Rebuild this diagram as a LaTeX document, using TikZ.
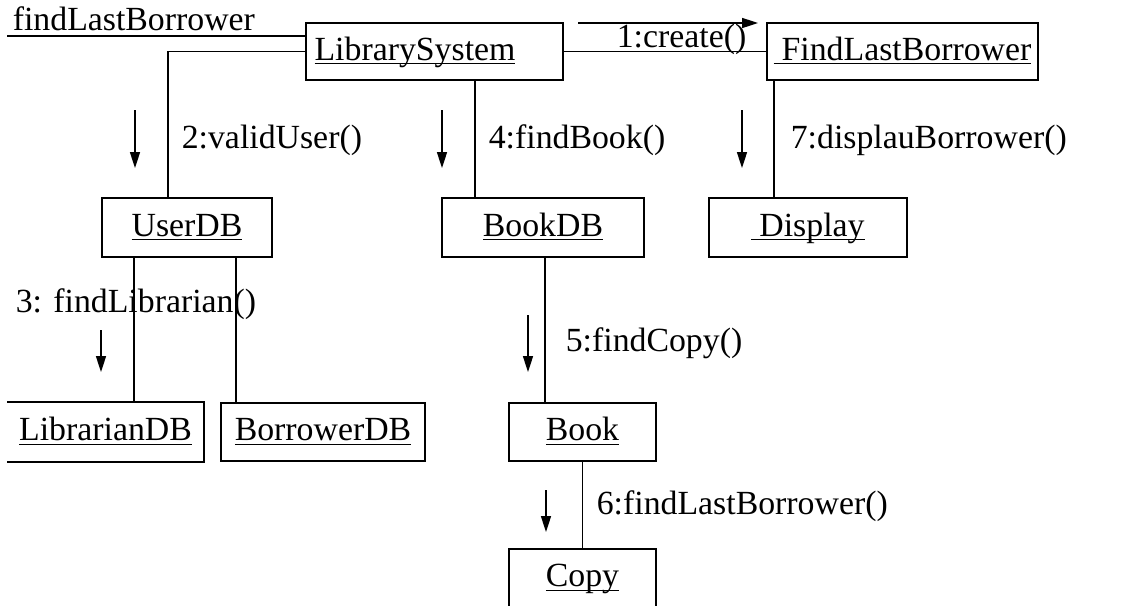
\documentclass[tikz,border=0pt]{standalone}
\usepackage{fontspec}
\setmainfont{Liberation Serif}
\usetikzlibrary{arrows.meta,calc}
% underlined object name, line just under the baseline
\newcommand\uname[1]{\setbox0\hbox{#1}\rlap{\rule[-2.2pt]{\wd0}{0.7pt}}\box0}
\begin{document}
\begin{tikzpicture}[x=0.5pt,y=-0.5pt,line width=0.8pt,
  every node/.style={font=\fontsize{16.9}{20}\selectfont,inner sep=0pt},
  obj/.style={draw,rectangle,inner sep=0pt,text height=11.5pt,text depth=3pt},
  objopen/.style={rectangle,inner sep=0pt,text height=11.5pt,text depth=3pt},
  msg/.style={-{Triangle[length=8pt,width=5pt]}},
  lbl/.style={anchor=base west}]
\useasboundingbox[fill=white] (0,0) rectangle (1121,606);

% objects
\node[obj,minimum width=128.5pt,minimum height=28.5pt] (ls) at (434.5,51.5) {\uname{LibrarySystem}\hspace*{19.5pt}};
\node[obj,minimum width=135.5pt,minimum height=28.5pt] (flb) at (902.5,51.5) {\uname{\hspace*{4pt}FindLastBorrower}};
\node[obj,minimum width=85pt,minimum height=29.5pt] (udb) at (187,227.5) {\uname{UserDB}};
\node[obj,minimum width=101pt,minimum height=29.5pt] (bdb) at (543,227.5) {\uname{BookDB}};
\node[obj,minimum width=99pt,minimum height=29.5pt] (disp) at (808,227.5) {\uname{\hspace*{4pt}Display}};
\node[objopen,minimum width=97.5pt,minimum height=29pt] (ldb) at (105.5,432) {\uname{LibrarianDB}};
\draw (ldb.north west) -- (ldb.north east) -- (ldb.south east) -- (ldb.south west);
\node[obj,minimum width=102pt,minimum height=29pt] (brdb) at (323,432) {\uname{BorrowerDB}};
\node[obj,minimum width=73.5pt,minimum height=29pt] (book) at (582.5,432) {\uname{Book}};
\node[obj,minimum width=73.5pt,minimum height=29pt] (copy) at (582.5,578) {\uname{Copy}};

% attachment points of the links
\coordinate (pU) at ($(udb.north west)+(67,0)$);
\coordinate (pB) at ($(bdb.north west)+(34,0)$);
\coordinate (pD) at ($(flb.south west)+(8,0)$);
\coordinate (pL) at ($(udb.south west)+(33,0)$);
\coordinate (pR) at ($(udb.south west)+(135,0)$);
\coordinate (pK) at ($(bdb.south west)+(104,0)$);

% links
\node[lbl] (m0) at (12,30) {findLastBorrower};
\coordinate (in0) at (7,36);
\draw (in0) -- (in0 -| ls.west);
\draw (ls.west) -| (pU);
\draw (pB) -- (pB |- ls.south);
\draw (ls.east) -- (flb.west);
\draw (pD) -- (pD |- disp.north);
\draw (pL) -- (pL |- ldb.north);
\draw (pR) -- (pR |- brdb.north);
\draw (pK) -- (pK |- book.north);
\draw (book.south) -- (copy.north);

% messages
\node[lbl] (m1) at (616,47) {1:create()};
\coordinate (a1s) at (578,23); \coordinate (a1e) at (758,23);
\draw[msg] (a1s) -- (a1e);

\node[lbl] (m2) at (181,148) {2:validUser()};
\coordinate (a2s) at (135,110); \coordinate (a2e) at (135,168);
\draw[msg] (a2s) -- (a2e);

\node[lbl] (m4) at (488,148) {4:findBook()};
\coordinate (a4s) at (442,110); \coordinate (a4e) at (442,168);
\draw[msg] (a4s) -- (a4e);

\node[lbl] (m7) at (790,148) {7:displauBorrower()};
\coordinate (a7s) at (742,110); \coordinate (a7e) at (742,168);
\draw[msg] (a7s) -- (a7e);

\node[lbl] (m3) at (15,312) {3: findLibrarian()};
\coordinate (a3s) at (101,330); \coordinate (a3e) at (101,372);
\draw[msg] (a3s) -- (a3e);

\node[lbl] (m5) at (565,351) {5:findCopy()};
\coordinate (a5s) at (528,315); \coordinate (a5e) at (528,372);
\draw[msg] (a5s) -- (a5e);

\node[lbl] (m6) at (596,514) {6:findLastBorrower()};
\coordinate (a6s) at (546,490); \coordinate (a6e) at (546,532);
\draw[msg] (a6s) -- (a6e);
\end{tikzpicture}
\end{document}
